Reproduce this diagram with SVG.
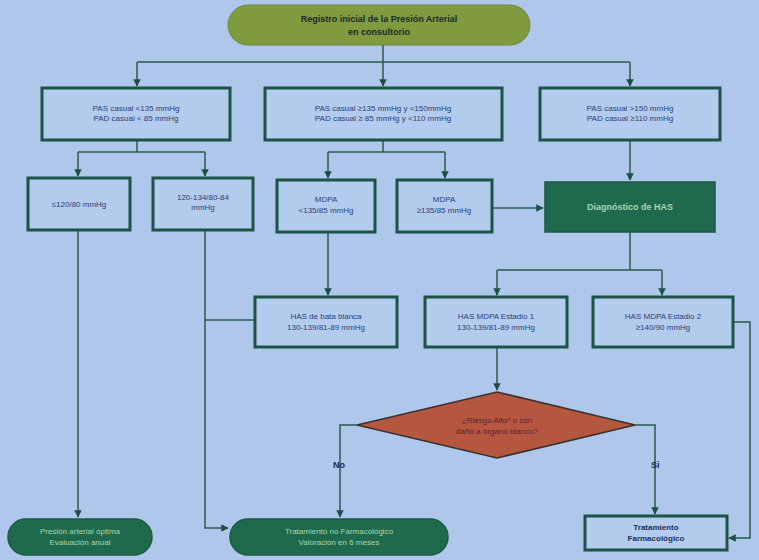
<svg xmlns="http://www.w3.org/2000/svg" width="759" height="560" viewBox="0 0 759 560">
<defs>
<marker id="ah" viewBox="0 0 10 10" refX="9" refY="5" markerWidth="5" markerHeight="5" orient="auto"><path d="M0,0 L10,5 L0,10 z" fill="#1d4f45"/></marker>
<style>
.box{fill:#b3cbec;stroke:#1d5248;stroke-width:3}
.dk{fill:#1f6a4c;stroke:#1c5a44;stroke-width:1.5}
.t{font-family:"Liberation Sans",Arial,sans-serif;font-size:8px;fill:#2c3f78;text-anchor:middle}
.tw{font-family:"Liberation Sans",Arial,sans-serif;font-size:8px;fill:#a8d6b0;text-anchor:middle}
.tb{font-family:"Liberation Sans",Arial,sans-serif;font-size:9px;font-weight:bold;fill:#1b2a2a;text-anchor:middle}
.c{fill:none;stroke:#2b5a4e;stroke-width:1.5}
</style>
</defs>
<rect width="759" height="560" fill="#afc7ea"/>
<g id="connectors">
<path class="c" d="M383,45 V62 M137,62 H630 M137,62 V86" marker-end="url(#ah)"/>
<path class="c" d="M383,62 V86" marker-end="url(#ah)"/>
<path class="c" d="M630,62 V86" marker-end="url(#ah)"/>
<path class="c" d="M137,140 V152 M78,152 H205 M78,152 V176" marker-end="url(#ah)"/>
<path class="c" d="M205,152 V176" marker-end="url(#ah)"/>
<path class="c" d="M383,140 V152 M328,152 H445 M328,152 V178" marker-end="url(#ah)"/>
<path class="c" d="M445,152 V178" marker-end="url(#ah)"/>
<path class="c" d="M492,208 H543" marker-end="url(#ah)"/>
<path class="c" d="M630,140 V180" marker-end="url(#ah)"/>
<path class="c" d="M630,232 V270 M497,270 H662 M497,270 V295" marker-end="url(#ah)"/>
<path class="c" d="M662,270 V295" marker-end="url(#ah)"/>
<path class="c" d="M328,232 V295" marker-end="url(#ah)"/>
<path class="c" d="M78,230 V517" marker-end="url(#ah)"/>
<path class="c" d="M205,230 V528 H228" marker-end="url(#ah)"/>
<path class="c" d="M255,320 H205"/>
<path class="c" d="M497,347 V390" marker-end="url(#ah)"/>
<path class="c" d="M357,425 H340 V517" marker-end="url(#ah)"/>
<path class="c" d="M635,425 H655 V514" marker-end="url(#ah)"/>
<path class="c" d="M733,322 H750 V538 H729" marker-end="url(#ah)"/>
</g>
<g id="n0"><rect x="228" y="5" width="302" height="40" rx="20" fill="#7f9b3e" stroke="#6f8a36"/>
<text class="tb" x="379" y="22">Registro inicial de la Presión Arterial</text><text class="tb" x="379" y="35">en consultorio</text></g>
<g id="n1"><rect class="box" x="42" y="88" width="188" height="52"/>
<text class="t" x="136" y="111">PAS casual &lt;135 mmHg</text><text class="t" x="136" y="121">PAD casual &lt; 85 mmHg</text></g>
<g id="n2"><rect class="box" x="265" y="88" width="237" height="52"/>
<text class="t" x="383" y="111">PAS casual ≥135 mmHg y &lt;150mmHg</text><text class="t" x="383" y="121">PAD casual ≥ 85 mmHg y &lt;110 mmHg</text></g>
<g id="n3"><rect class="box" x="540" y="88" width="180" height="52"/>
<text class="t" x="630" y="111">PAS casual &gt;150 mmHg</text><text class="t" x="630" y="121">PAD casual ≥110 mmHg</text></g>
<g id="n4"><rect class="box" x="28" y="178" width="102" height="52"/>
<text class="t" x="79" y="207">≤120/80 mmHg</text></g>
<g id="n5"><rect class="box" x="153" y="178" width="100" height="52"/>
<text class="t" x="203" y="200">120-134/80-84</text><text class="t" x="203" y="210">mmHg</text></g>
<g id="n6"><rect class="box" x="277" y="180" width="98" height="52"/>
<text class="t" x="326" y="202">MDPA</text><text class="t" x="326" y="213">&lt;135/85 mmHg</text></g>
<g id="n7"><rect class="box" x="397" y="180" width="95" height="52"/>
<text class="t" x="444" y="202">MDPA</text><text class="t" x="444" y="213">≥135/85 mmHg</text></g>
<g id="n8"><rect class="dk" x="545" y="182" width="170" height="50"/>
<text class="tw" x="630" y="210" style="font-weight:bold;font-size:9px">Diagnóstico de HAS</text></g>
<g id="n9"><rect class="box" x="255" y="297" width="142" height="50"/>
<text class="t" x="326" y="319">HAS de bata blanca</text><text class="t" x="326" y="330">130-139/81-89 mmHg</text></g>
<g id="n10"><rect class="box" x="425" y="297" width="142" height="50"/>
<text class="t" x="496" y="319">HAS MDPA Estadio 1</text><text class="t" x="496" y="330">130-139/81-89 mmHg</text></g>
<g id="n11"><rect class="box" x="593" y="297" width="140" height="50"/>
<text class="t" x="663" y="319">HAS MDPA Estadio 2</text><text class="t" x="663" y="330">≥140/90 mmHg</text></g>
<g id="n12"><polygon points="497,392 635,425 497,458 357,425" fill="#b5573f" stroke="#3a3030" stroke-width="1.5"/>
<text class="t" x="497" y="423" style="fill:#5a1f3a">¿Riesgo Alto* o con</text><text class="t" x="497" y="434" style="fill:#5a1f3a">daño a órgano blanco?</text></g>
<text x="333" y="468" font-family="Liberation Sans,Arial,sans-serif" font-size="9" font-weight="bold" fill="#1b2a44">No</text>
<text x="651" y="468" font-family="Liberation Sans,Arial,sans-serif" font-size="9" font-weight="bold" fill="#1b2a44">Si</text>
<g id="n13"><rect class="dk" x="8" y="519" width="144" height="36" rx="18"/>
<text class="tw" x="80" y="534">Presión arterial óptima</text><text class="tw" x="80" y="545">Evaluación anual</text></g>
<g id="n14"><rect class="dk" x="230" y="519" width="218" height="36" rx="18"/>
<text class="tw" x="339" y="534">Tratamiento no Farmacológico</text><text class="tw" x="339" y="545">Valoración en 6 meses</text></g>
<g id="n15"><rect class="box" x="585" y="516" width="142" height="34"/>
<text class="t" x="656" y="530" style="font-weight:bold;fill:#1f2f5a">Tratamiento</text><text class="t" x="656" y="541" style="font-weight:bold;fill:#1f2f5a">Farmacológico</text></g>
</svg>
